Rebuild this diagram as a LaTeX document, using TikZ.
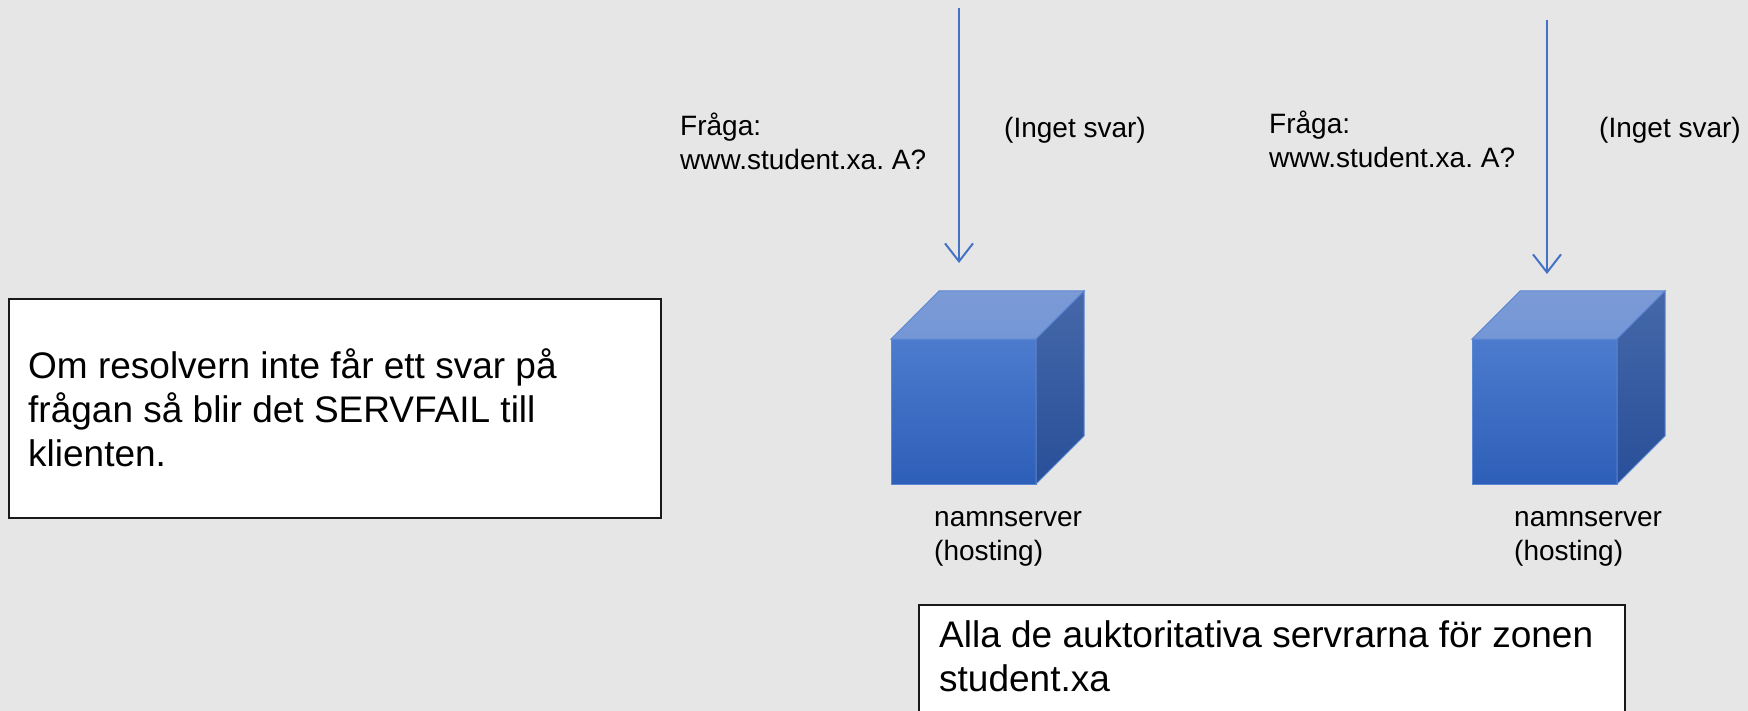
\documentclass[tikz,border=0pt]{standalone}
\usepackage{fontspec}
\setmainfont{Liberation Sans}
\frenchspacing
\usetikzlibrary{arrows.meta}
\definecolor{bg}{HTML}{E7E6E6}
\definecolor{arr}{HTML}{4472C4}
\definecolor{frontT}{HTML}{4C7BCE}
\definecolor{frontB}{HTML}{2E5FB8}
\definecolor{topT}{HTML}{7B9AD6}
\definecolor{topB}{HTML}{7597D6}
\definecolor{sideT}{HTML}{4668AA}
\definecolor{sideB}{HTML}{284F98}
\definecolor{edge}{HTML}{5A86D2}
\begin{document}
\begin{tikzpicture}[x=1pt,y=-1pt,
  small/.style={inner sep=0pt, anchor=base west, align=left, font=\fontsize{28}{34}\selectfont},
  big/.style={inner sep=0pt, anchor=base west, align=left, font=\fontsize{37}{44}\selectfont},
  frame/.style={draw=black!90, line width=2.2pt, fill=white, anchor=north west, inner sep=0pt},
  query/.style={draw=arr, line width=2pt, -{Straight Barb[length=18pt,width=28pt,line width=2pt]}},
  server/.pic={
    \shade[top color=frontT, bottom color=frontB, draw=edge, line width=1pt]
      (0,0) rectangle (145,145);
    \shade[top color=topT, bottom color=topB, draw=edge, line width=1pt]
      (0,0) -- (48,-48) -- (193,-48) -- (145,0) -- cycle;
    \shade[top color=sideT, bottom color=sideB, draw=edge, line width=1pt]
      (145,0) -- (193,-48) -- (193,97) -- (145,145) -- cycle;
  }]
\useasboundingbox (0,0) rectangle (1748,711);
\clip (0,0) rectangle (1748,711);
\fill[bg] (0,0) rectangle (1748,711);

% left explanation box
\node[frame, minimum width=652pt, minimum height=219pt] (lbox) at (8,298) {};
\node[big] (ltext) at (28,466) {Om resolvern inte får ett svar på\\frågan så blir det SERVFAIL till\\klienten.};

% bottom box
\node[frame, minimum width=706pt, minimum height=140pt] (bbox) at (918,604) {};
\node[big] (btext) at (939,691) {Alla de auktoritativa servrarna för zonen\\student.xa};

% servers
\pic (s1) at (891,339) {server};
\pic (s2) at (1472,339) {server};

% arrows
\coordinate (a1s) at (959,8);
\coordinate (a1e) at (959,263);
\coordinate (a2s) at (1547,20);
\coordinate (a2e) at (1547,274);
\draw[query] (a1s) -- (a1e);
\draw[query] (a2s) -- (a2e);

% labels
\node[small] (q1) at (680,170) {Fråga:\\www.student.xa. A?};
\node[small] (r1) at (1004,138) {(Inget svar)};
\node[small] (q2) at (1269,168) {Fråga:\\www.student.xa. A?};
\node[small] (r2) at (1599,138) {(Inget svar)};
\node[small] (ns1) at (934,560) {namnserver\\(hosting)};
\node[small] (ns2) at (1514,560) {namnserver\\(hosting)};
\end{tikzpicture}
\end{document}
